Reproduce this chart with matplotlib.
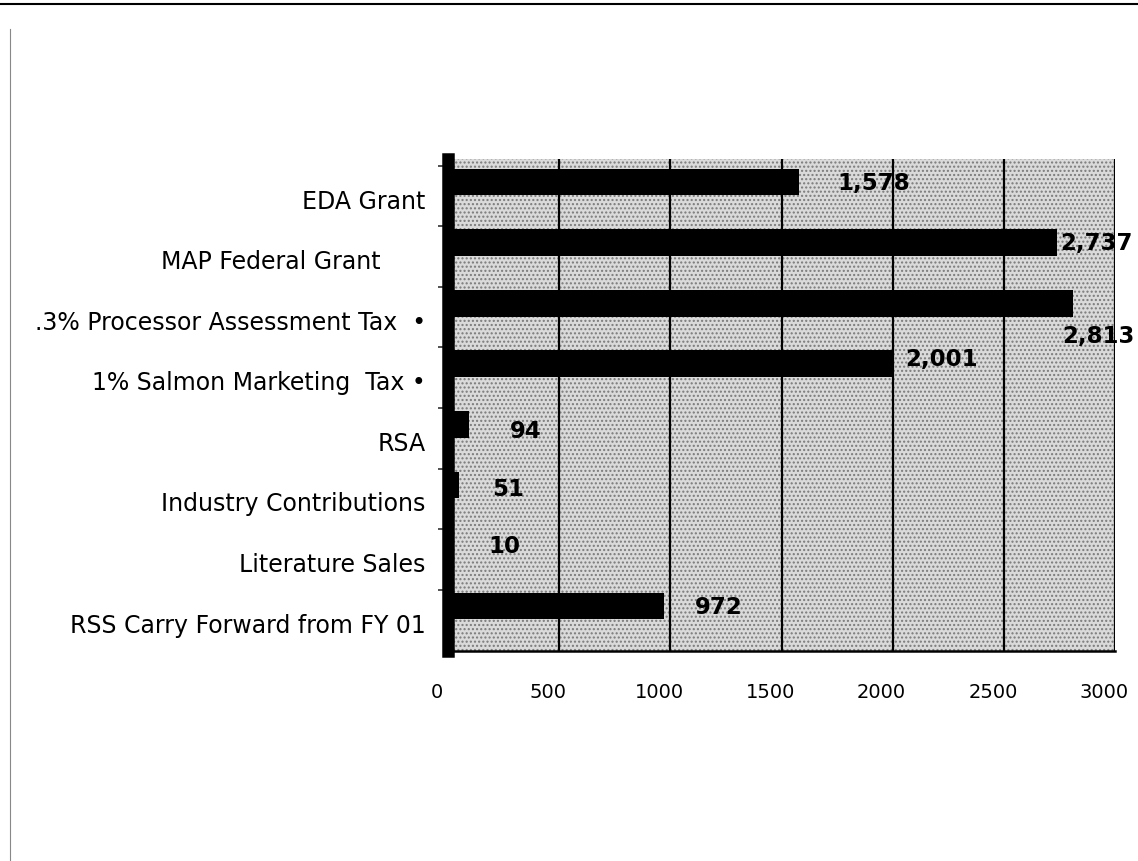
import matplotlib
matplotlib.use("Agg")
import matplotlib.pyplot as plt
import matplotlib.transforms as mtransforms
from matplotlib.patches import Rectangle
from matplotlib.lines import Line2D
import numpy as np

categories = [
    "EDA Grant",
    "MAP Federal Grant      ",
    ".3% Processor Assessment Tax  \u2022",
    "1% Salmon Marketing  Tax \u2022",
    "RSA",
    "Industry Contributions",
    "Literature Sales",
    "RSS Carry Forward from FY 01",
]
values = [1578, 2737, 2813, 2001, 94, 51, 10, 972]
value_labels = ["1,578", "2,737", "2,813", "2,001", "94", "51", "10", "972"]
x_ticks = [0, 500, 1000, 1500, 2000, 2500, 3000]

# label offsets in pixels (dx right, dy down) relative to bar end
label_offsets = [(39, 0), (4, 0), (-11, 32), (12, -5), (41, 6), (33, 4), (38, 0), (31, 0)]

W, H = 1138, 862
fig = plt.figure(figsize=(W / 100, H / 100), dpi=100)
fig.patch.set_facecolor("white")

ax_left, ax_right, ax_top, ax_bottom = 448, 1115, 160, 652
ax = fig.add_axes([ax_left / W, 1 - ax_bottom / H, (ax_right - ax_left) / W, (ax_bottom - ax_top) / H])
ax.set_facecolor("#d4d4d4")

ypos = np.arange(len(categories))
ax.set_xlim(0, 3000)
ax.set_ylim(7.74, -0.38)

# stippled background
bg = Rectangle((0, 0), 1, 1, transform=ax.transAxes, facecolor="#dadada",
               hatch="....", edgecolor="#7a7a7a", linewidth=0, zorder=0)
ax.add_patch(bg)

ax.set_xticks(x_ticks)
ax.grid(axis="x", color="black", linewidth=1.6, zorder=1)
ax.set_axisbelow(True)

ax.barh(ypos, values, height=0.44, color="black", zorder=3)

for y, v, lab, (dx, dy) in zip(ypos, values, value_labels, label_offsets):
    off = mtransforms.offset_copy(ax.transData, fig=fig, x=dx, y=-dy, units="dots")
    ax.text(v, y, lab, transform=off, ha="left", va="center",
            fontsize=16.5, fontweight="bold", color="black", zorder=4)

# y labels
ax.set_yticks(ypos)
ax.set_yticklabels(categories, fontsize=17)
ax.set_yticks(ypos - 0.27, minor=True)
ax.tick_params(axis="y", which="major", length=0, pad=16)
ax.tick_params(axis="y", which="minor", length=7, width=1.2, color="#333333")
shift = mtransforms.ScaledTranslation(0, -16 / 100, fig.dpi_scale_trans)
for t in ax.get_yticklabels():
    t.set_transform(t.get_transform() + shift)

# x labels
ax.set_xticklabels([str(t) for t in x_ticks], fontsize=14)
ax.tick_params(axis="x", length=0, pad=22)
shiftx = mtransforms.ScaledTranslation(-11 / 100, 0, fig.dpi_scale_trans)
for t in ax.get_xticklabels():
    t.set_transform(t.get_transform() + shiftx)

for s in ["top", "right"]:
    ax.spines[s].set_visible(False)
ax.spines["left"].set_linewidth(9)
ax.spines["left"].set_color("black")
ax.spines["bottom"].set_linewidth(1.8)
ax.spines["bottom"].set_color("black")

# scan frame lines
fig.add_artist(Line2D([0.0, 1.0], [1 - 5 / H, 1 - 5 / H], color="black", linewidth=1.5,
                      transform=fig.transFigure))
fig.add_artist(Line2D([10 / W, 10 / W], [0, 1 - 30 / H], color="#888888", linewidth=0.8,
                      transform=fig.transFigure))

fig.savefig("out.png", dpi=100)
